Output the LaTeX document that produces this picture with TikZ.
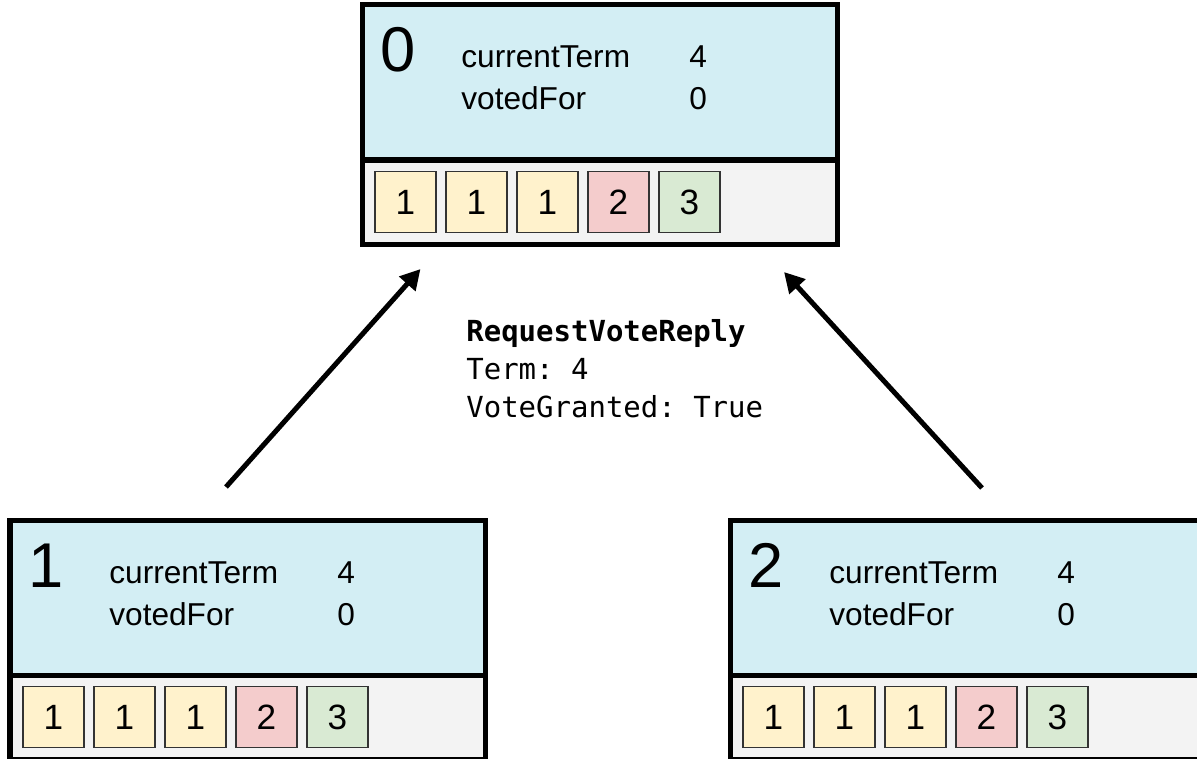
\documentclass[tikz,border=0pt]{standalone}
\usepackage{fontspec}
\setmainfont{Liberation Sans}
\setmonofont{DejaVu Sans Mono}
\usepackage{xcolor}
\usepackage{tikz}
\usetikzlibrary{positioning,arrows.meta,calc}

\definecolor{statecyan}{HTML}{D3EEF4}
\definecolor{loggray}{HTML}{F3F3F3}
\definecolor{termone}{HTML}{FFF2CC}
\definecolor{termtwo}{HTML}{F4CCCC}
\definecolor{termthree}{HTML}{D9EAD3}

\tikzset{
  statebox/.style={draw, line width=0.1cm, fill=statecyan, minimum width=9.5cm,
    minimum height=3.1cm, inner sep=0pt, outer sep=0pt},
  logbox/.style={draw, line width=0.1cm, fill=loggray, minimum width=9.5cm,
    minimum height=1.68cm, inner sep=0pt, outer sep=0pt},
  entry/.style={draw=black!80, line width=0.6pt, minimum size=1.22cm, inner sep=0pt,
    outer sep=0pt, font=\fontsize{20}{24}\selectfont},
  serverid/.style={anchor=base west, inner sep=0pt, font=\fontsize{36}{40}\selectfont},
  field/.style={anchor=base west, inner sep=0pt, font=\fontsize{18}{22}\selectfont},
  message/.style={anchor=north west, inner sep=0pt, align=left,
    font=\ttfamily\fontsize{16.5}{21.6}\selectfont},
  reply/.style={line width=0.1cm, -{Triangle[length=0.4cm,width=0.42cm]}}
}

% one server: state on top, log below
\newcommand{\raftserver}[4]{%
  \node[statebox, anchor=north west] (#1) at (#2,#3) {};
  \node[serverid] (#1-id) at ($(#1.north west)+(0.36,-1.34)$) {#4};
  \node[field] (#1-term) at ($(#1.north west)+(1.98,-1.26)$) {currentTerm};
  \node[field] (#1-vote) at ($(#1.north west)+(1.98,-2.10)$) {votedFor};
  \node[field] (#1-termval) at ($(#1.north west)+(6.54,-1.26)$) {4};
  \node[field] (#1-voteval) at ($(#1.north west)+(6.54,-2.10)$) {0};
  \node[logbox, below=0pt of #1] (#1-log) {};
  \node[entry, fill=termone, right=0.26cm of #1-log.west] (#1-e1) {1};
  \node[entry, fill=termone, right=0.2cm of #1-e1] (#1-e2) {1};
  \node[entry, fill=termone, right=0.2cm of #1-e2] (#1-e3) {1};
  \node[entry, fill=termtwo, right=0.2cm of #1-e3] (#1-e4) {2};
  \node[entry, fill=termthree, right=0.2cm of #1-e4] (#1-e5) {3};
}

\begin{document}
\begin{tikzpicture}
  \clip (0,0) rectangle (23.94,-15.16);
  % Servers
  \raftserver{s0}{7.24}{-0.10}{0}
  \raftserver{s1}{0.20}{-10.40}{1}
  \raftserver{s2}{14.60}{-10.40}{2}
  % Message
  \node[message] (vote-reply) at (9.32,-6.39)
    {\textbf{RequestVoteReply}\\Term: 4\\VoteGranted: True};
  % Arrows
  \coordinate (left-tail) at (4.52,-9.74);
  \coordinate (left-head) at (8.41,-5.38);
  \coordinate (right-tail) at (19.64,-9.76);
  \coordinate (right-head) at (15.68,-5.44);
  \draw[reply] (left-tail) -- (left-head);
  \draw[reply] (right-tail) -- (right-head);
\end{tikzpicture}
\end{document}
